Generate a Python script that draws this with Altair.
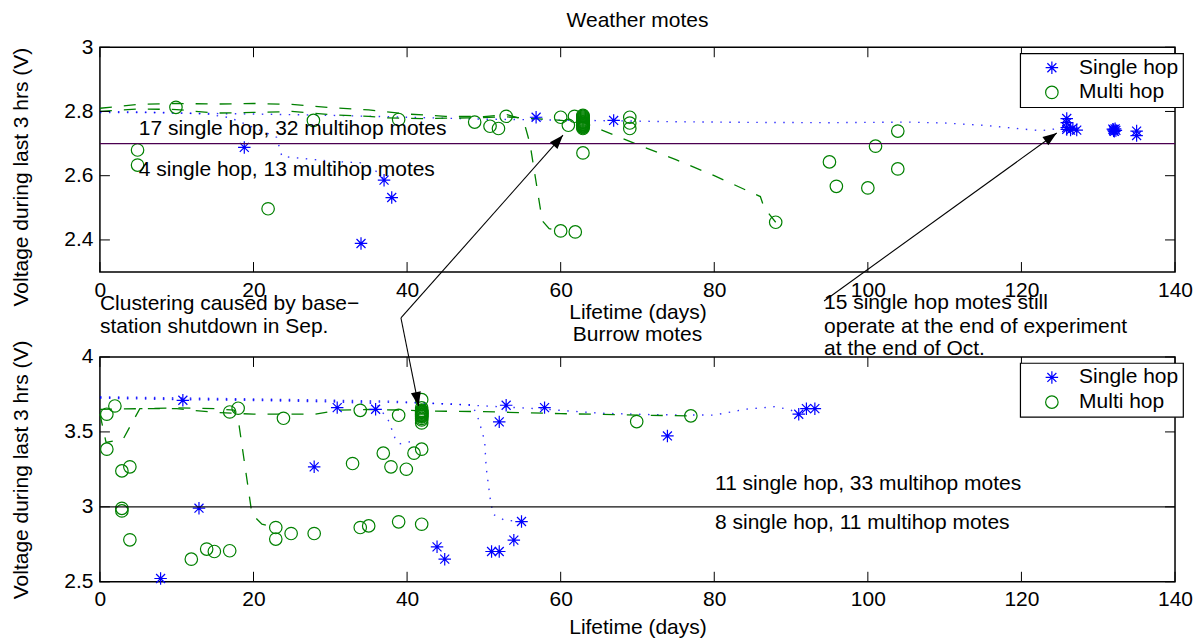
import math
import altair as alt
import pandas as pd

# ---------------- chart geometry / style ----------------
W, H = 1076, 225
FONT = "Liberation Sans"
FS = 21
BLUE = "#0000ff"
GREEN = "#008000"
STAR = "M-1,0L1,0M0,-1L0,1M-0.72,-0.72L0.72,0.72M-0.72,0.72L0.72,-0.72"
HEAD = "M0,0L-0.36,1L0.36,1Z"

x_ticks = [0, 20, 40, 60, 80, 100, 120, 140]

# ---------------- Weather motes (top) ----------------
top_single_x = [18.8, 34.0, 37.0, 38.0, 56.8, 66.9,
                125.9, 125.9, 125.9, 125.9, 126.4, 126.7, 127.2,
                131.9, 132.0, 132.0, 132.1, 132.2, 132.3, 135.0, 135.0]
top_single_y = [2.688, 2.389, 2.586, 2.532, 2.782, 2.772,
                2.778, 2.765, 2.750, 2.744, 2.742, 2.748, 2.742,
                2.745, 2.740, 2.743, 2.738, 2.746, 2.741, 2.739, 2.725]

top_multi_x = [9.9, 27.8, 38.9, 48.8, 50.8, 51.9, 52.9, 60.0, 61.0, 61.8,
               69.0, 69.0, 69.0, 103.9,
               62.9, 62.9, 62.9, 62.9, 62.9, 62.9, 62.9, 62.9, 62.9,
               62.9, 62.9, 62.9, 62.9, 62.9, 62.9, 62.9, 62.9, 62.9,
               4.9, 4.9, 21.9, 60.0, 61.9, 62.9, 88.0, 95.0, 95.9, 100.0, 101.0, 103.9]
top_multi_y = [2.813, 2.772, 2.775, 2.767, 2.754, 2.747, 2.785, 2.782, 2.757, 2.785,
               2.782, 2.764, 2.747, 2.739,
               2.788, 2.785, 2.782, 2.779, 2.776, 2.773, 2.770, 2.768, 2.766,
               2.764, 2.762, 2.760, 2.758, 2.756, 2.754, 2.752, 2.750, 2.747,
               2.680, 2.633, 2.497, 2.428, 2.425, 2.671, 2.455, 2.643, 2.567, 2.562, 2.692, 2.621]

# single-hop voltage traces (blue dotted)
tb1_x = [0, 5, 10, 20, 30, 40, 50, 57, 63, 67, 75, 85, 95, 105, 110, 115, 119, 122.5, 125.9]
tb1_y = [2.797, 2.797, 2.795, 2.792, 2.788, 2.782, 2.776, 2.774, 2.772, 2.771, 2.768, 2.766,
         2.765, 2.767, 2.764, 2.757, 2.748, 2.740, 2.750]
tb2_x = [0, 8, 14, 17, 20, 23, 23.7, 25.5, 30, 34, 36.3, 37]
tb2_y = [2.800, 2.797, 2.792, 2.780, 2.750, 2.720, 2.660, 2.656, 2.645, 2.640, 2.609, 2.586]
# multi-hop voltage traces (green dashed)
tgA_x = [0, 5, 10, 15, 20, 25, 30, 35, 40, 45, 50, 53, 54.5, 55.3, 56, 57.6, 58.5, 60]
tgA_y = [2.810, 2.822, 2.825, 2.823, 2.825, 2.822, 2.812, 2.805, 2.792, 2.785, 2.784, 2.790,
         2.780, 2.760, 2.700, 2.460, 2.435, 2.428]
tgB_x = [0, 5, 10, 15, 20, 25, 30, 35, 37, 42, 48, 53, 58, 61, 63, 70, 75, 80, 86, 86.5, 88]
tgB_y = [2.800, 2.808, 2.806, 2.795, 2.797, 2.800, 2.790, 2.785, 2.780, 2.778, 2.780, 2.783,
         2.776, 2.770, 2.765, 2.697, 2.650, 2.600, 2.535, 2.500, 2.455]

top_thr = [2.7]
top_y_ticks = [2.4, 2.6, 2.8, 3.0]

top_text = ["17 single hop, 32 multihop motes", "4 single hop, 13 multihop motes",
            "Clustering caused by base\u2212", "station shutdown in Sep.",
            "15 single hop motes still", "operate at the end of experiment", "at the end of Oct."]
top_text_x = [5.06, 5.06, 0.0, 0.0, 94.3, 94.3, 94.3]
top_text_y = [2.744, 2.617, 2.201, 2.128, 2.2035, 2.129, 2.060]

top_arrow_x = [39.2, 94.3]
top_arrow_y = [2.157, 2.210]
top_arrow_x2 = [60.3, 124.6]
top_arrow_y2 = [2.726, 2.733]

# ---------------- Burrow motes (bottom) ----------------
bot_single_x = [10.8, 27.9, 30.9, 35.9, 52.0, 52.9, 57.9, 73.9, 91.0, 92.0, 93.1,
                7.9, 12.9, 43.9, 44.9, 51.0, 52.0, 53.9, 54.9]
bot_single_y = [3.711, 3.267, 3.662, 3.651, 3.567, 3.678, 3.662, 3.473, 3.618, 3.655, 3.655,
                2.522, 2.991, 2.733, 2.651, 2.702, 2.702, 2.778, 2.902]

bot_multi_x = [0.9, 1.95, 0.9, 2.86, 3.9, 16.9, 18.0, 23.9, 32.9, 33.9, 36.9, 37.9, 38.9,
               39.9, 40.9, 41.9, 69.9, 76.95,
               41.9, 41.9, 41.9, 41.9, 41.9, 41.9, 41.9, 41.9, 41.9, 41.9, 41.9, 41.9, 41.9, 41.9, 41.9,
               2.86, 2.86, 3.9, 11.9, 13.9, 14.9, 16.9, 22.9, 22.9, 24.9, 27.9, 33.9, 35.0, 38.9, 41.9]
bot_multi_y = [3.618, 3.673, 3.385, 3.240, 3.267, 3.633, 3.658, 3.591, 3.289, 3.644, 3.358, 3.267, 3.611,
               3.251, 3.358, 3.385, 3.569, 3.607,
               3.715, 3.660, 3.645, 3.640, 3.635, 3.630, 3.625, 3.620, 3.615, 3.610, 3.605, 3.600,
               3.590, 3.580, 3.560,
               2.990, 2.973, 2.780, 2.651, 2.718, 2.702, 2.707, 2.862, 2.785, 2.822, 2.822, 2.862,
               2.873, 2.900, 2.884]

bb1_x = [0, 10, 20, 30, 38, 46, 57, 65, 72, 80, 84, 88, 90, 91]
bb1_y = [3.735, 3.727, 3.720, 3.712, 3.705, 3.684, 3.655, 3.625, 3.615, 3.612, 3.651, 3.669, 3.645, 3.618]
bb2_x = [0, 10, 20, 30, 40, 46, 48.5, 49.3, 50.1, 50.3, 50.8, 51.2, 52.7, 54.9]
bb2_y = [3.730, 3.720, 3.715, 3.705, 3.695, 3.686, 3.680, 3.584, 3.440, 3.262, 3.062, 2.950, 2.911, 2.902]
bb3_x = [0, 10, 20, 30, 36, 37.6, 38.4, 39.0, 40.0, 40.8]
bb3_y = [3.725, 3.715, 3.710, 3.700, 3.690, 3.573, 3.462, 3.420, 3.430, 3.440]
bgC_x = [0, 0.8, 3.0, 5.2, 10, 15, 17.5, 18.1, 19.8, 21.1, 22.9]
bgC_y = [3.620, 3.430, 3.450, 3.655, 3.660, 3.655, 3.645, 3.551, 2.951, 2.884, 2.862]
bgD_x = [0, 5, 10, 15, 20, 28, 31, 35, 40, 42, 50, 60, 70, 77]
bgD_y = [3.650, 3.655, 3.655, 3.630, 3.618, 3.618, 3.645, 3.650, 3.645, 3.640, 3.635, 3.622, 3.612, 3.607]

bot_thr = [3.0]
bot_y_ticks = [2.5, 3.0, 3.5, 4.0]

bot_text = ["11 single hop, 33 multihop motes", "8 single hop, 11 multihop motes"]
bot_text_x = [80.1, 80.1]
bot_text_y = [3.153, 2.895]

bot_arrow_x = [39.2]
bot_arrow_y = [4.26]
bot_arrow_x2 = [41.5]
bot_arrow_y2 = [3.673]


def traces_df(traces):
    rows = []
    for k, (xs, ys) in enumerate(traces):
        for i, (a, b) in enumerate(zip(xs, ys)):
            rows.append({"x": a, "y": b, "trace": k, "i": i})
    return pd.DataFrame(rows)


def panel(sx, sy, mx, my, blue_tr, green_tr, thr, thr_color, ydom, yticks,
          tx, ty, tt, ax, ay, ax2, ay2, title, title_y, ytitle_y, xtitle_y):
    XS = alt.Scale(domain=[0, 140], nice=False, zero=False)
    YS = alt.Scale(domain=list(ydom), nice=False, zero=False)
    XA = alt.Axis(values=x_ticks, ticks=False, tickSize=0, domain=False, grid=False,
                  labelPadding=7, labelFlush=False, labelOverlap=False, format="d",
                  title="Lifetime (days)", titleY=xtitle_y, titleBaseline="middle")
    YA = alt.Axis(values=yticks, ticks=False, tickSize=0, domain=False, grid=False,
                  labelPadding=7, labelFlush=False, labelOverlap=False, format="~g",
                  title="Voltage during last 3 hrs (V)", titleX=-78, titleY=ytitle_y,
                  titleAngle=270, titleBaseline="middle")
    X = alt.X("x:Q", scale=XS, axis=XA)
    Y = alt.Y("y:Q", scale=YS, axis=YA)

    pts = pd.DataFrame({
        "x": list(sx) + list(mx),
        "y": list(sy) + list(my),
        "hop": ["Single hop"] * len(sx) + ["Multi hop"] * len(mx),
    })
    hop_dom = ["Single hop", "Multi hop"]
    leg = alt.Legend(orient="none", legendX=921, legendY=6, title=None,
                     fillColor="white", strokeColor="black", padding=4, rowPadding=2.7,
                     symbolOffset=17.25, labelOffset=16.75, labelFontSize=FS, labelFont=FONT,
                     labelColor="black", symbolSize=156, symbolStrokeWidth=1.2,
                     labelExpr="datum.label + '\u00a0\u00a0'")

    blue_lines = alt.Chart(traces_df(blue_tr)).mark_line(
        color=BLUE, strokeDash=[1.5, 7.5], strokeWidth=1.4, opacity=0.8
    ).encode(x=X, y=Y, detail="trace:N", order="i:Q")
    green_lines = alt.Chart(traces_df(green_tr)).mark_line(
        color=GREEN, strokeDash=[12, 12], strokeWidth=1.3
    ).encode(x=X, y=Y, detail="trace:N", order="i:Q")

    points = alt.Chart(pts).mark_point(filled=False, size=156, strokeWidth=1.2, opacity=1).encode(
        x=X, y=Y,
        color=alt.Color("hop:N", scale=alt.Scale(domain=hop_dom, range=[BLUE, GREEN]), legend=leg),
        shape=alt.Shape("hop:N", scale=alt.Scale(domain=hop_dom, range=[STAR, "circle"]), legend=leg),
    )

    thr_rule = alt.Chart(pd.DataFrame({"y": thr})).mark_rule(
        color=thr_color, strokeWidth=1.3).encode(y=Y)

    texts = alt.Chart(pd.DataFrame({"x": tx, "y": ty, "t": tt})).mark_text(
        align="left", baseline="middle", font=FONT, fontSize=FS, color="black"
    ).encode(x=X, y=Y, text="t:N")

    heading = alt.Chart(pd.DataFrame({"t": [title]})).mark_text(
        align="center", baseline="middle", font=FONT, fontSize=FS, color="black"
    ).encode(text="t:N", x=alt.value(W / 2), y=alt.value(title_y))

    # arrows: line + filled head rotated toward the target
    pxx = W / 140.0
    pxy = H / (ydom[1] - ydom[0])
    ang = [math.degrees(math.atan2((a2 - a1) * pxx, (c2 - c1) * pxy)) % 360
           for a1, a2, c1, c2 in zip(ax, ax2, ay, ay2)]
    adf = pd.DataFrame({"x": ax, "y": ay, "x2": ax2, "y2": ay2, "ang": ang})
    arrow_lines = alt.Chart(adf).mark_rule(color="black", strokeWidth=1.1).encode(
        x=X, y=Y, x2="x2:Q", y2="y2:Q")
    heads = alt.Chart(adf).mark_point(shape=HEAD, filled=True, color="black", size=784,
                                      opacity=1, strokeWidth=0).encode(
        x=alt.X("x2:Q", scale=XS, axis=XA), y=alt.Y("y2:Q", scale=YS, axis=YA),
        angle=alt.Angle("ang:Q", scale=None))

    # inward ticks on all four sides
    xt = pd.DataFrame({"x": x_ticks})
    yt = pd.DataFrame({"y": yticks})
    tick_b = alt.Chart(xt).mark_rule(color="black", strokeWidth=1).encode(
        x=X, y=alt.value(H), y2=alt.value(H - 10))
    tick_t = alt.Chart(xt).mark_rule(color="black", strokeWidth=1).encode(
        x=X, y=alt.value(0), y2=alt.value(10))
    tick_l = alt.Chart(yt).mark_rule(color="black", strokeWidth=1).encode(
        y=Y, x=alt.value(0), x2=alt.value(10))
    tick_r = alt.Chart(yt).mark_rule(color="black", strokeWidth=1).encode(
        y=Y, x=alt.value(W - 10), x2=alt.value(W))

    return alt.layer(
        blue_lines, green_lines, points, thr_rule, texts, heading, arrow_lines, heads,
        tick_b, tick_t, tick_l, tick_r
    ).properties(width=W, height=H)


top = panel(top_single_x, top_single_y, top_multi_x, top_multi_y,
            [(tb1_x, tb1_y), (tb2_x, tb2_y)], [(tgA_x, tgA_y), (tgB_x, tgB_y)],
            top_thr, "#4b0050", (2.3, 3.0), top_y_ticks,
            top_text_x, top_text_y, top_text,
            top_arrow_x, top_arrow_y, top_arrow_x2, top_arrow_y2,
            "Weather motes", -26, 129.5, 40)

bottom = panel(bot_single_x, bot_single_y, bot_multi_x, bot_multi_y,
               [(bb1_x, bb1_y), (bb2_x, bb2_y), (bb3_x, bb3_y)], [(bgC_x, bgC_y), (bgD_x, bgD_y)],
               bot_thr, "#111111", (2.5, 4.0), bot_y_ticks,
               bot_text_x, bot_text_y, bot_text,
               bot_arrow_x, bot_arrow_y, bot_arrow_x2, bot_arrow_y2,
               "Burrow motes", -22, 112.5, 46)

chart = alt.vconcat(top, bottom, spacing=85, bounds="flush").resolve_scale(
    color="independent", shape="independent"
).resolve_legend(
    color="independent", shape="independent"
).properties(
    padding={"left": 2, "top": 1, "right": 0, "bottom": 0}
).configure(
    font=FONT
).configure_view(
    stroke="black", strokeWidth=1.5
).configure_axis(
    labelFont=FONT, labelFontSize=FS, labelColor="black",
    titleFont=FONT, titleFontSize=FS, titleFontWeight="normal", titleColor="black"
).configure_legend(
    strokeWidth=1.2, cornerRadius=0
)

chart.save("out.html", embed_options={"renderer": "svg", "actions": False})
